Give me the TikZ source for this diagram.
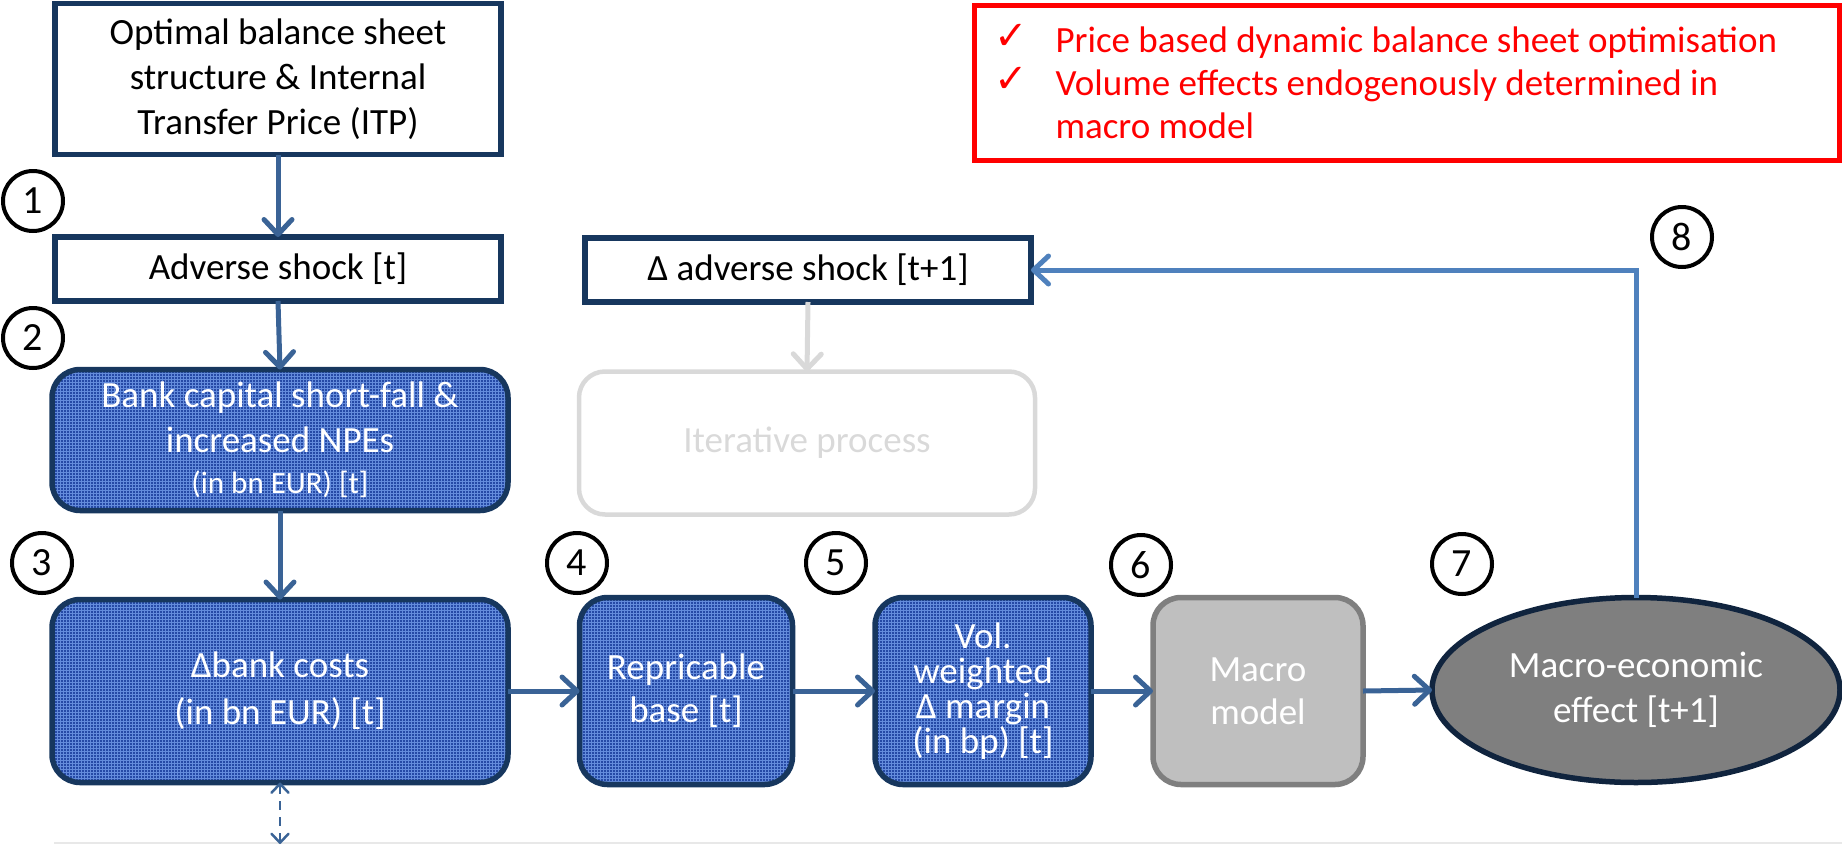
\documentclass[tikz,border=0pt]{standalone}
\usepackage{fontspec}
\setmainfont{Carlito}
\newfontfamily\symbolfont{DejaVu Sans}
\usetikzlibrary{arrows.meta,shapes.geometric,patterns}

\definecolor{navy}{RGB}{23,55,94}
\definecolor{navydark}{RGB}{16,36,62}
\definecolor{flowblue}{RGB}{58,99,150}
\definecolor{loopblue}{RGB}{79,129,189}
\definecolor{boxblue}{RGB}{38,74,166}
\definecolor{gridblue}{RGB}{100,140,220}
\definecolor{macrogray}{RGB}{191,191,191}
\definecolor{macroedge}{RGB}{127,127,127}
\definecolor{effectgray}{RGB}{127,127,127}
\definecolor{faint}{RGB}{217,217,217}
\definecolor{baseline}{RGB}{232,232,232}
\definecolor{alertred}{RGB}{255,0,0}

\newcommand\checkglyph{\raisebox{3pt}{\symbolfont\fontsize{40}{40}\selectfont ✓}}

\begin{document}
\begin{tikzpicture}[x=1pt,y=-1pt,
  every node/.style={inner sep=0pt, outer sep=0pt, align=center},
  txt/.style={font=\fontsize{37}{45}\selectfont},
  whitebox/.style={txt, draw=navy, line width=5.5pt, fill=white},
  bluebox/.style={txt, draw=navy, line width=5.5pt, rounded corners=28pt,
    preaction={fill=boxblue}, pattern=grid, pattern color=gridblue, text=white},
  macrobox/.style={txt, draw=macroedge, line width=5.5pt, rounded corners=28pt,
    fill=macrogray, text=white},
  ghostbox/.style={txt, draw=faint, line width=4.5pt, rounded corners=26pt, text=faint},
  effectnode/.style={txt, ellipse, draw=navydark, line width=5.5pt, fill=effectgray, text=white},
  num/.style={circle, draw=black, line width=4pt, minimum size=60pt,
    font=\fontsize{40}{40}\selectfont},
  barb/.style={-{Straight Barb[round, length=15pt, width=28pt]}},
  flow/.style={barb, draw=flowblue, line width=5pt},
  loopback/.style={barb, draw=loopblue, line width=5pt},
  ghostflow/.style={barb, draw=faint, line width=5pt},
  bothways/.style={draw=flowblue, line width=2.5pt, dash pattern=on 9pt off 7pt,
    {Straight Barb[round, length=9pt, width=17pt]}-{Straight Barb[round, length=9pt, width=17pt]}}
]
\useasboundingbox (0,0) rectangle (1842,844);

% faint rule along the lower edge
\draw[draw=baseline, line width=2pt] (54,843) -- (1842,843);

% left column
\node[whitebox, minimum width=446pt, minimum height=151pt] (itp) at (278,79)
  {Optimal balance sheet\\structure \& Internal\\Transfer Price (ITP)};
\node[whitebox, minimum width=446pt, minimum height=64pt] (shock) at (278,269)
  {Adverse shock [t]};
\node[bluebox, minimum width=456pt, minimum height=141pt] (capital) at (280,440)
  {Bank capital short-fall \&\\increased NPEs\\[-4pt]{\fontsize{31}{31}\selectfont (in bn EUR) [t]}};
\node[bluebox, font=\fontsize{37}{47}\selectfont, minimum width=456pt, minimum height=183pt] (costs) at (280,691)
  {Δbank costs\\(in bn EUR) [t]};
\coordinate (costsfoot) at (280,844);

% bottom row
\node[bluebox, font=\fontsize{37}{43}\selectfont, minimum width=213pt, minimum height=187pt] (repr) at (686,691)
  {Repricable\\base [t]};
\node[bluebox, font=\fontsize{37}{35}\selectfont, minimum width=216pt, minimum height=187pt] (margin) at (983,691)
  {Vol.\\weighted\\Δ margin\\(in bp) [t]};
\node[macrobox, font=\fontsize{37}{43}\selectfont, minimum width=210pt, minimum height=187pt] (macro) at (1258,691)
  {Macro\\model};
\node[effectnode, minimum width=408pt, minimum height=185pt] (effect) at (1636,690)
  {Macro-economic\\effect [t+1]};

% iteration branch
\node[whitebox, minimum width=446pt, minimum height=64pt] (dshock) at (808,270)
  {Δ adverse shock [t+1]};
\node[ghostbox, minimum width=456pt, minimum height=143pt] (iter) at (807,443)
  {Iterative process};

% key points
\node[draw=alertred, line width=5pt, minimum width=865pt, minimum height=155pt] (notes) at (1407,83) {};
\node[anchor=west, text=alertred, align=left, font=\fontsize{37}{43}\selectfont] (points) at (994,87)
  {\begin{tabular}{@{}l@{\hspace{28pt}}l@{}}
   \checkglyph & Price based dynamic balance sheet optimisation\\
   \checkglyph & Volume effects endogenously determined in\\
               & macro model
   \end{tabular}};

% step numbers
\node[num] (n1) at (33,201) {1};
\node[num] (n2) at (33,338) {2};
\node[num] (n3) at (42,563) {3};
\node[num] (n4) at (577,563) {4};
\node[num] (n5) at (836,563) {5};
\node[num] (n6) at (1141,565) {6};
\node[num] (n7) at (1462,564) {7};
\node[num] (n8) at (1682,237) {8};

% connectors
\draw[flow] (itp.south) -- (shock.north);
\draw[flow] (shock.south) -- (capital.north);
\draw[flow] (capital.south) -- (costs.north);
\draw[flow] (costs.east) -- (repr.west);
\draw[flow] (repr.east) -- (margin.west);
\draw[flow] (margin.east) -- (macro.west);
\draw[flow] (macro.east) -- (effect.west);
\draw[loopback] (effect.north) |- (dshock.east);
\draw[ghostflow] (dshock.south) -- (iter.north);
\draw[bothways] (costs.south) -- (costsfoot);
\end{tikzpicture}
\end{document}
